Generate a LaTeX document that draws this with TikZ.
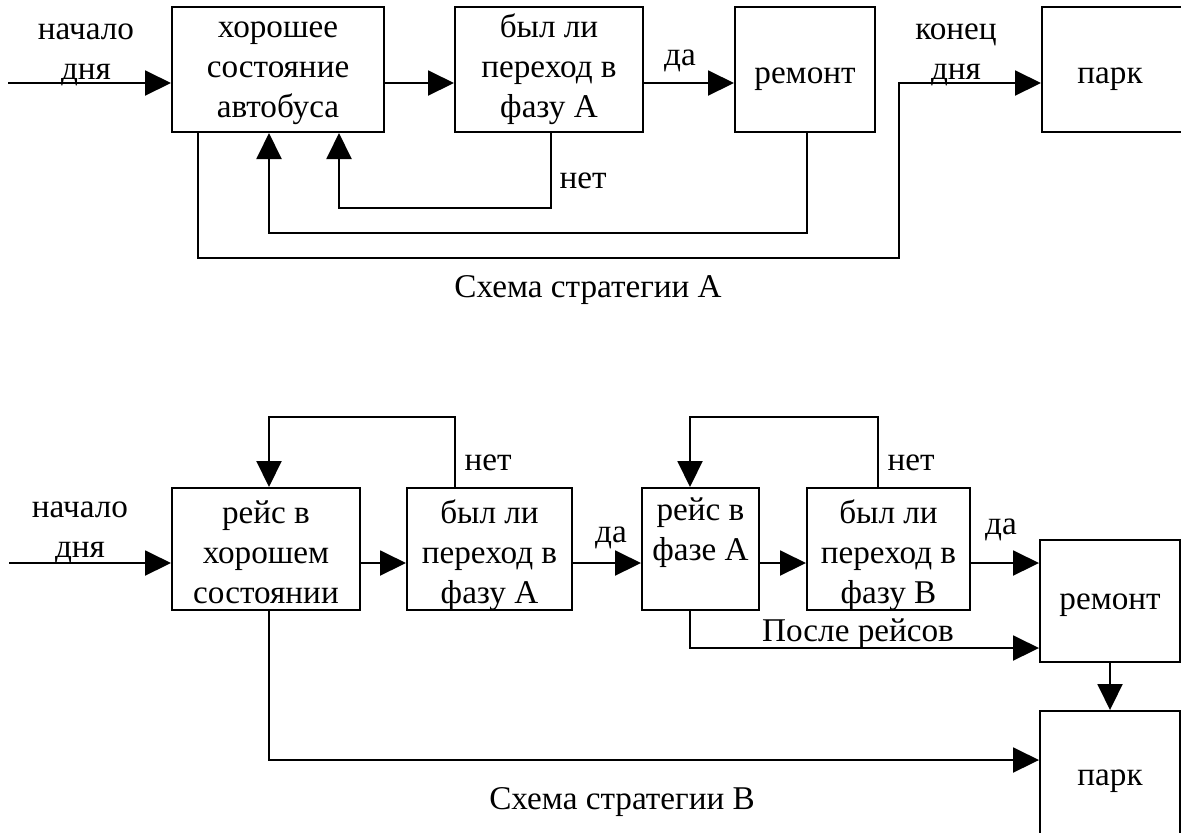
\documentclass[tikz,border=0pt]{standalone}
\usepackage{fontspec}
\setmainfont{Liberation Serif}
\usetikzlibrary{arrows.meta}
% last line set without depth: moves the text block of a box downwards
\newcommand{\nodepth}[1]{\raisebox{0pt}[\height][0pt]{#1}}
\begin{document}
\begin{tikzpicture}[x=0.5pt,y=-0.5pt,
  every node/.style={font=\fontsize{16.6}{20}\selectfont},
  box/.style={draw, line width=1pt, inner sep=0pt, align=center},
  lbl/.style={inner sep=0pt, align=center},
  baselbl/.style={inner sep=0pt, anchor=base},
  conn/.style={line width=1pt},
  arr/.style={conn, -{Triangle[length=13pt,width=12.5pt]}}]

\useasboundingbox (0,0) rectangle (1181,832);
\fill[white] (0,0) rectangle (1181,832);

% ---------------- Strategy A ----------------
\node[box, minimum width=106pt, minimum height=62.5pt] (a1) at (278,69.5)
  {\strut хорошее\\\strut состояние\\\strut автобуса};
\node[box, minimum width=94pt, minimum height=62.5pt] (a2) at (549,69.5)
  {\strut был ли\\\strut переход в\\\strut фазу А};
\node[box, minimum width=70pt, minimum height=62.5pt, text height=17pt, text depth=3pt] (a3) at (805,69.5) {ремонт};
\node[box, minimum width=74pt, minimum height=62.5pt] (a4) at (1116,69.5) {};
\node[baselbl] (a4t) at (1110,83.5) {парк};

\coordinate (ay) at (0,83);
\coordinate (ain) at (8,83);
\coordinate (ax1) at (339,208);
\coordinate (ax2) at (269,233);
\coordinate (ax3) at (198,258);
\coordinate (ax4) at (899,0);
\coordinate (aout2) at (551,0);
\coordinate (aout3) at (807,0);

\draw[arr] (ain) -- (a1.west |- ay);
\draw[arr] (a1.east |- ay) -- (a2.west |- ay);
\draw[arr] (a2.east |- ay) -- (a3.west |- ay);
\draw[arr] (a2.south -| aout2) |- (ax1) -- (a1.south -| ax1);
\draw[arr] (a3.south -| aout3) |- (ax2) -- (a1.south -| ax2);
\draw[arr] (a1.south -| ax3) |- (ax3 -| ax4) |- (a4.west |- ay);

\node[lbl] (la1) at (86,51.5) {\strut начало\\\strut дня};
\node[baselbl] (la2) at (680,65.5) {да};
\node[baselbl] (la3) at (583,188.5) {нет};
\node[lbl] (la4) at (956,51.5) {\strut конец\\\strut дня};
\node[baselbl] (la5) at (588,297) {Схема стратегии А};

% ---------------- Strategy B ----------------
\node[box, minimum width=94pt, minimum height=61pt] (b1) at (266,549)
  {\strut рейс в\\\strut хорошем\\\nodepth{состоянии}};
\node[box, minimum width=82.5pt, minimum height=61pt] (b2) at (489.5,549)
  {\strut был ли\\\strut переход в\\\nodepth{фазу А}};
\node[box, minimum width=58.5pt, minimum height=61pt] (b3) at (700.5,549) {};
\node[lbl] (b3t) at (700.5,532) {\strut рейс в\\\strut фазе А};
\node[box, minimum width=81.5pt, minimum height=61pt] (b4) at (888.5,549)
  {\strut был ли\\\strut переход в\\\nodepth{фазу В}};
\node[box, minimum width=70pt, minimum height=61pt] (b5) at (1110,601) {\strut ремонт};
\node[box, minimum width=70pt, minimum height=70pt] (b6) at (1110,781) {};
\node[baselbl] (b6t) at (1110,785) {парк};

\coordinate (by) at (0,563);
\coordinate (bin) at (9,563);
\coordinate (bl1) at (455,417);
\coordinate (bl1d) at (269,0);
\coordinate (bl2) at (878,417);
\coordinate (bl2d) at (690,0);
\coordinate (bp) at (690,648);
\coordinate (bq) at (269,760);

\draw[arr] (bin) -- (b1.west |- by);
\draw[arr] (b1.east |- by) -- (b2.west |- by);
\draw[arr] (b2.east |- by) -- (b3.west |- by);
\draw[arr] (b3.east |- by) -- (b4.west |- by);
\draw[arr] (b4.east |- by) -- (b5.west |- by);
\draw[arr] (b2.north -| bl1) |- (bl1 -| bl1d) -- (b1.north -| bl1d);
\draw[arr] (b4.north -| bl2) |- (bl2 -| bl2d) -- (b3.north -| bl2d);
\draw[arr] (b3.south -| bp) |- (b5.west |- bp);
\draw[arr] (b1.south -| bq) |- (b6.west |- bq);
\draw[arr] (b5.south) -- (b6.north);

\node[lbl] (lb1) at (80,529.5) {\strut начало\\\strut дня};
\node[baselbl] (lb2) at (488,470.5) {нет};
\node[baselbl] (lb3) at (911,470.5) {нет};
\node[baselbl] (lb4) at (611,542.5) {да};
\node[baselbl] (lb5) at (1001,534.5) {да};
\node[baselbl] (lb6) at (858,641) {После рейсов};
\node[baselbl] (lb7) at (622,809) {Схема стратегии В};
\end{tikzpicture}
\end{document}
